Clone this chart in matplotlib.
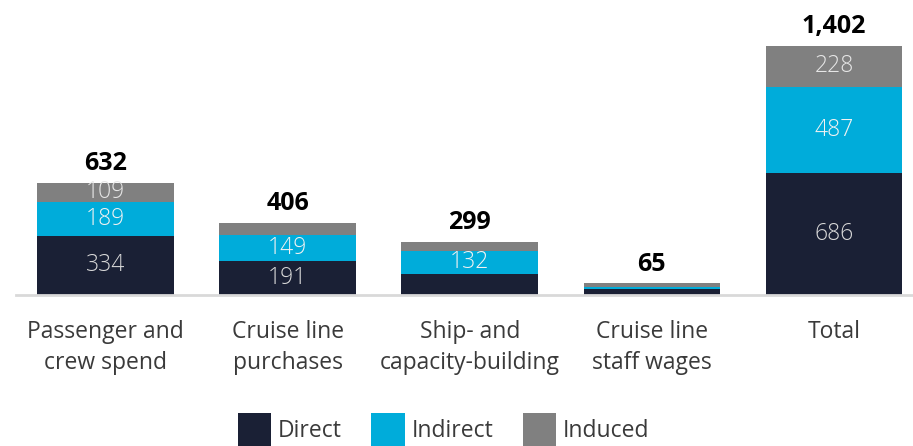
import numpy as np
import matplotlib
matplotlib.use("Agg")
import matplotlib.pyplot as plt

plt.rcParams['font.family'] = ['Open Sans', 'DejaVu Sans']

categories = ['Passenger and\ncrew spend', 'Cruise line\npurchases', 'Ship- and\ncapacity-building',
              'Cruise line\nstaff wages', 'Total']
direct = [334, 191, 118, 34, 686]
indirect = [189, 149, 132, 12, 487]
induced = [109, 66, 49, 19, 228]
totals = [632, 406, 299, 65, 1402]

# which segments carry a value label
show_direct = [True, True, False, False, True]
show_indirect = [True, True, True, False, True]
show_induced = [True, False, False, False, True]

c_direct = '#1a2035'
c_indirect = '#00acda'
c_induced = '#808080'

fig = plt.figure(figsize=(9.13, 4.46), dpi=100)
ax = fig.add_axes([16/913, 151/446, 897/913, 295/446])

x = np.arange(len(categories))
w = 0.75
d = np.array(direct)
i_ = np.array(indirect)
n = np.array(induced)

b1 = ax.bar(x, d, w, color=c_direct, label='Direct', zorder=2)
b2 = ax.bar(x, i_, w, bottom=d, color=c_indirect, label='Indirect', zorder=2)
b3 = ax.bar(x, n, w, bottom=d + i_, color=c_induced, label='Induced', zorder=2)

ax.bar_label(b1, labels=[str(v) if s else '' for v, s in zip(direct, show_direct)],
             label_type='center', color='#d9d9d9', fontsize=16.5, fontweight='light')
ax.bar_label(b2, labels=[str(v) if s else '' for v, s in zip(indirect, show_indirect)],
             label_type='center', color='#f2f2f2', fontsize=16.5, fontweight='light')
ax.bar_label(b3, labels=[str(v) if s else '' for v, s in zip(induced, show_induced)],
             label_type='center', color='#e6e6e6', fontsize=16.5, fontweight='light')
ax.bar_label(b3, labels=[f'{t:,}' for t in totals], padding=5,
             color='black', fontsize=18, fontweight='bold')

ax.set_xlim(-0.4915, 4.434)
ax.set_ylim(0, 1402 * 295 / 249)
ax.set_xticks(x)
ax.set_xticklabels(categories, fontsize=16.5, color='#3a3a3a', linespacing=1.4)
ax.tick_params(axis='x', length=0, pad=18)
ax.set_yticks([])
for s in ['top', 'right', 'left']:
    ax.spines[s].set_visible(False)
ax.spines['bottom'].set_color('#d9d9d9')
ax.spines['bottom'].set_linewidth(2)

fig.legend(loc='center', bbox_to_anchor=(0.486, 0.036), ncol=3, frameon=False,
           fontsize=16.5, handlelength=1.45, handleheight=1.9, handletextpad=0.3,
           columnspacing=1.3, borderpad=0, labelcolor='#3a3a3a')

fig.savefig('out.png', dpi=100)
